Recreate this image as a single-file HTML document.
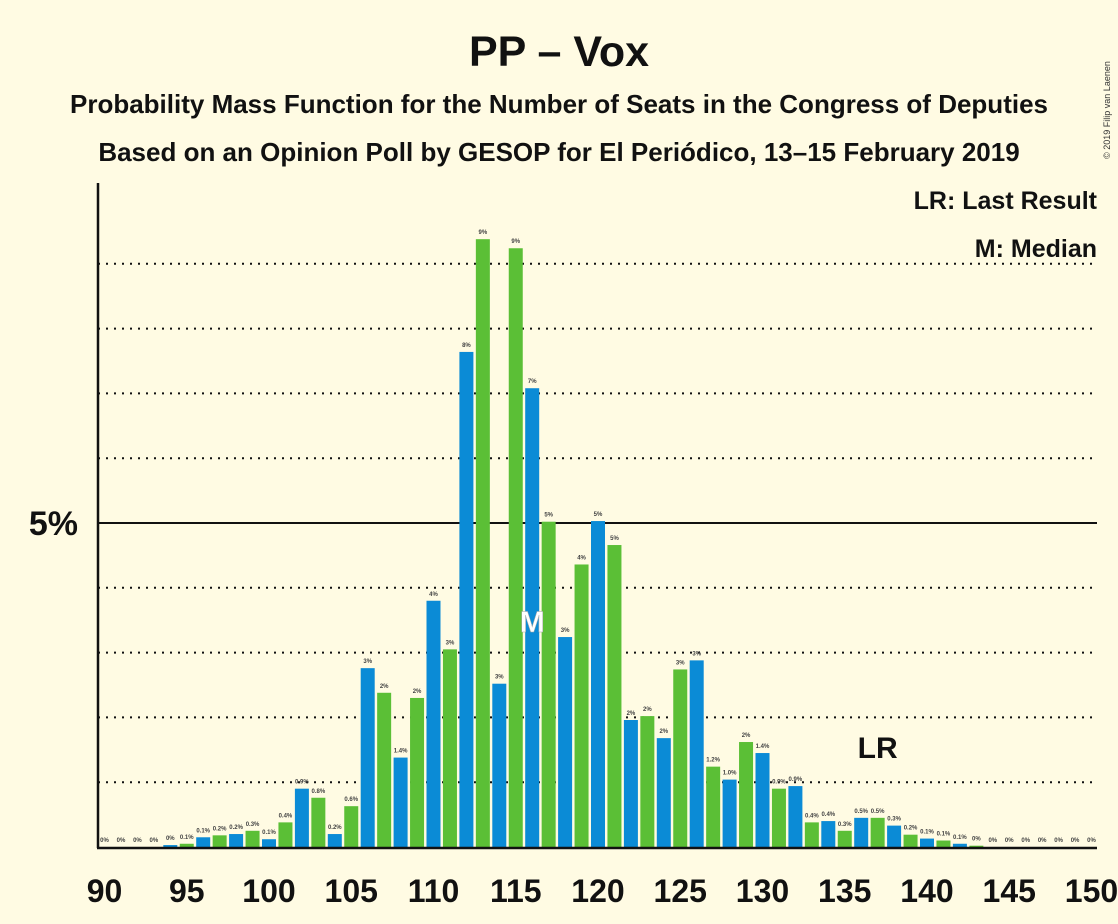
<!DOCTYPE html>
<html><head><meta charset="utf-8"><style>
body{margin:0;background:#fffbe3;font-family:"Liberation Sans",sans-serif;}
svg{display:block}
</style></head><body>
<svg id="c" width="1118" height="924">
<rect width="1118" height="924" fill="#fffbe3"/>
<text x="559" y="66" text-anchor="middle" font-size="43" font-weight="bold" fill="#111">PP – Vox</text>
<text x="559" y="113" text-anchor="middle" font-size="26" font-weight="bold" fill="#111">Probability Mass Function for the Number of Seats in the Congress of Deputies</text>
<text x="559" y="161" text-anchor="middle" font-size="26" font-weight="bold" fill="#111">Based on an Opinion Poll by GESOP for El Periódico, 13–15 February 2019</text>
<text x="1110" y="110" font-size="9" fill="#333" transform="rotate(-90 1110 110)" text-anchor="middle">© 2019 Filip van Laenen</text>
<text x="1097" y="209" text-anchor="end" font-size="25" font-weight="bold" fill="#111">LR: Last Result</text>
<text x="1097" y="257" text-anchor="end" font-size="25" font-weight="bold" fill="#111">M: Median</text>
<g id="grid"></g>
<g id="bars"></g>
<g id="axes"></g>
</svg>
<script>
const seats=[90,91,92,93,94,95,96,97,98,99,100,101,102,103,104,105,106,107,108,109,110,111,112,113,114,115,116,117,118,119,120,121,122,123,124,125,126,127,128,129,130,131,132,133,134,135,136,137,138,139,140,141,142,143,144,145,146,147,148,149,150];
const probs=[0,0,0,0,0.03,0.05,0.15,0.18,0.2,0.25,0.12,0.38,0.9,0.76,0.2,0.63,2.76,2.38,1.38,2.3,3.8,3.05,7.64,9.38,2.52,9.24,7.08,5.02,3.24,4.36,5.03,4.66,1.96,2.02,1.68,2.74,2.88,1.24,1.04,1.62,1.45,0.9,0.94,0.38,0.4,0.25,0.45,0.45,0.33,0.19,0.13,0.1,0.05,0.02,0,0,0,0,0,0,0];
const xTicks=[90,95,100,105,110,115,120,125,130,135,140,145,150];
const gridLevels=[1,2,3,4,5,6,7,8,9];
const medianSeat=116, lastResultSeat=137;
const NS='http://www.w3.org/2000/svg';
const X=s=>104.5+(s-90)*16.45;
const Y=v=>847-v*64.8;
function mk(tag,attrs,parent){const e=document.createElementNS(NS,tag);for(const k in attrs)e.setAttribute(k,attrs[k]);parent.appendChild(e);return e;}
const grid=document.getElementById('grid'),bars=document.getElementById('bars'),axes=document.getElementById('axes');
gridLevels.forEach(g=>{
 const l=mk('line',{x1:98,x2:1097,y1:Y(g),y2:Y(g),stroke:'#111','stroke-width':2,'stroke-dasharray':g===5?'':'2,6'},grid);
 
 
});
const t5=mk('text',{x:78,y:Y(5)+12,'text-anchor':'end','font-size':34,'font-weight':'bold',fill:'#111'},axes);
t5.textContent='5%';


function lab(v){if(v<0.05)return '0%';if(v<1.6)return v.toFixed(1)+'%';return Math.round(v)+'%';}
seats.forEach((s,i)=>{
 const v=probs[i];
 if(v>0){
  const r=mk('rect',{x:X(s)-7,y:Y(v),width:14,height:847-Y(v),fill:s%2===0?'#0b8bd6':'#5bbf36'},bars);
  
  
 }
 const t=mk('text',{x:X(s),y:Y(v)-5,'text-anchor':'middle','font-size':6,'font-weight':'bold',fill:'#444'},bars);
 t.textContent=lab(v);
 
 
});
const m=mk('text',{x:X(medianSeat),y:632,'text-anchor':'middle','font-size':30,'font-weight':'bold',fill:'#fff',stroke:'#aaa','stroke-width':0.5},bars);
m.textContent='M';


const lr=mk('text',{x:X(lastResultSeat),y:758,'text-anchor':'middle','font-size':30,'font-weight':'bold',fill:'#111'},bars);
lr.textContent='LR';


const ya=mk('line',{x1:98,x2:98,y1:183,y2:848,stroke:'#111','stroke-width':2.5},axes);


const xa=mk('line',{x1:97,x2:1097,y1:848,y2:848,stroke:'#111','stroke-width':2.5},axes);


xTicks.forEach(s=>{
 const t=mk('text',{x:X(s),y:902,'text-anchor':'middle','font-size':32,'font-weight':'bold',fill:'#111'},axes);
 t.textContent=s;
 
 
});
</script>
</body></html>
